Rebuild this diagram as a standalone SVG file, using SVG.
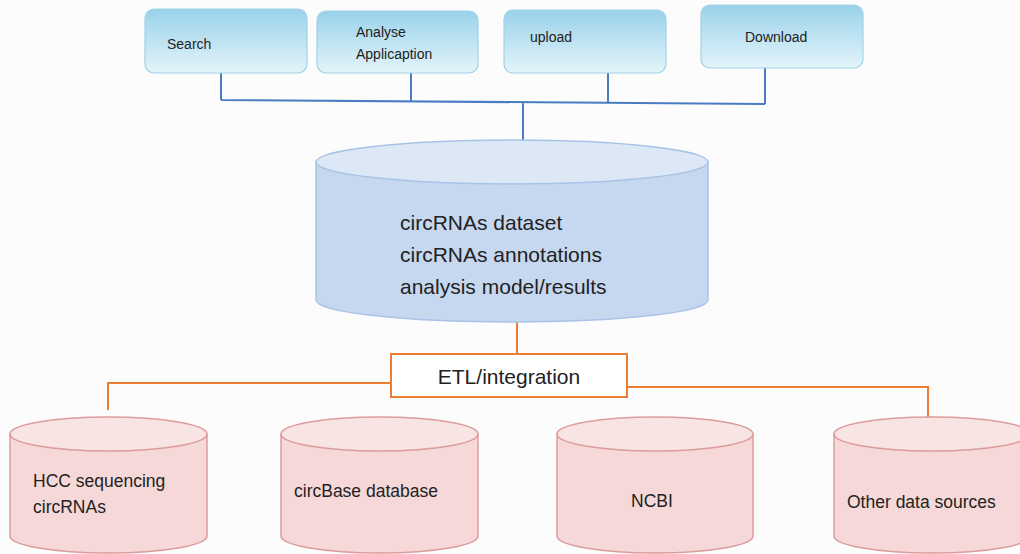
<svg xmlns="http://www.w3.org/2000/svg" width="1020" height="554" viewBox="0 0 1020 554">
<defs>
<linearGradient id="gBox" x1="0" y1="0" x2="0" y2="1">
<stop offset="0" stop-color="#99d2ea"/>
<stop offset="1" stop-color="#e4f4fa"/>
</linearGradient>
<style>
.box{fill:url(#gBox);stroke:#9fd2e6;stroke-width:1.2}
.t{font-family:"Liberation Sans",Arial,sans-serif;fill:#222}
.ts{font-size:14px}
.tm{font-size:21px}
.tb{font-size:17.5px}
.blue{stroke:#4a7cc4;stroke-width:2;fill:none}
.orange{stroke:#ed7d31;stroke-width:2;fill:none}
.mbody{fill:#c6d8ef;stroke:#a8c3e6;stroke-width:1.5}
.mtop{fill:#dde8f6;stroke:#a8c3e6;stroke-width:1.5}
.pbody{fill:#f6d8d8;stroke:#dd9c9c;stroke-width:1.5}
.ptop{fill:#f9e4e4;stroke:#dd9c9c;stroke-width:1.5}
</style>
</defs>
<rect width="1020" height="554" fill="#fcfcfd"/>
<g id="connectors">
<path class="blue" d="M221 73 V100 M411 73 V101 M608 73 V103 M765 68 V104 M221 100 L765 104 M523 102 V140"/>
<path class="orange" d="M517 322 V354 M391 383 H108 V410 M627 387 H928 V419"/>
</g>
<g id="search"><rect class="box" x="145" y="9" width="162" height="64" rx="9"/><text class="t ts" x="167" y="49">Search</text></g>
<g id="analyse"><rect class="box" x="317" y="11" width="161" height="62" rx="9"/><text class="t ts" x="356" y="37">Analyse</text><text class="t ts" x="356" y="59">Applicaption</text></g>
<g id="upload"><rect class="box" x="504" y="10" width="162" height="63" rx="9"/><text class="t ts" x="530" y="42">upload</text></g>
<g id="download"><rect class="box" x="701" y="5" width="162" height="63" rx="9"/><text class="t ts" x="745" y="42">Download</text></g>
<g id="main-db">
<path class="mbody" d="M316 162 V300 A196 22 0 0 0 708 300 V162 Z"/>
<ellipse class="mtop" cx="512" cy="162" rx="196" ry="22"/>
<text class="t tm" x="400" y="230">circRNAs dataset</text>
<text class="t tm" x="400" y="262">circRNAs annotations</text>
<text class="t tm" x="400" y="294">analysis model/results</text>
</g>
<g id="etl"><rect x="391" y="354" width="236" height="43" fill="#ffffff" stroke="#ed7d31" stroke-width="2"/><text class="t tm" x="509" y="384" text-anchor="middle">ETL/integration</text></g>
<g id="hcc">
<path class="pbody" d="M10 434 V536 A98.5 17 0 0 0 207 536 V434 Z"/>
<ellipse class="ptop" cx="108.5" cy="434" rx="98.5" ry="17"/>
<text class="t tb" x="33" y="487">HCC sequencing</text>
<text class="t tb" x="33" y="513">circRNAs</text>
</g>
<g id="circbase">
<path class="pbody" d="M281 434 V536 A98.5 17 0 0 0 478 536 V434 Z"/>
<ellipse class="ptop" cx="379.5" cy="434" rx="98.5" ry="17"/>
<text class="t tb" x="294" y="497">circBase database</text>
</g>
<g id="ncbi">
<path class="pbody" d="M557 434 V536 A98 17 0 0 0 753 536 V434 Z"/>
<ellipse class="ptop" cx="655" cy="434" rx="98" ry="17"/>
<text class="t tb" x="652" y="507" text-anchor="middle">NCBI</text>
</g>
<g id="other">
<path class="pbody" d="M834 434 V536 A98 17 0 0 0 1030 536 V434 Z"/>
<ellipse class="ptop" cx="932" cy="434" rx="98" ry="17"/>
<text class="t tb" x="847" y="508">Other data sources</text>
</g>
</svg>
